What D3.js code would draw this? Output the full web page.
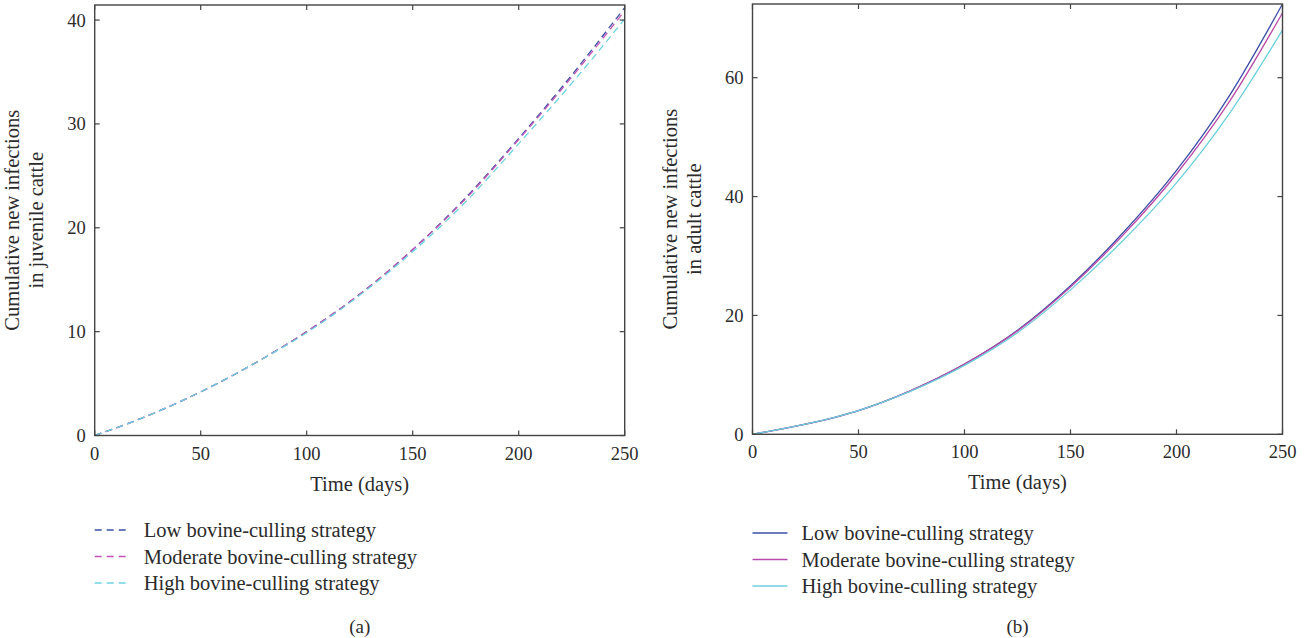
<!DOCTYPE html>
<html>
<head>
<meta charset="utf-8">
<script src="https://cdn.jsdelivr.net/npm/d3@7"></script>
<style>
  body { margin: 0; background: #fff; }
  text { font-family: "Liberation Serif", "DejaVu Serif", serif; fill: #2b2b2b; }
</style>
</head>
<body>
<div id="chart"></div>
<script>
// time points (days)
const days = [0, 25, 50, 75, 100, 125, 150, 175, 200, 225, 250];

// (a) juvenile cattle
const juvLow  = [0, 1.9, 4.2, 6.9, 10.0, 13.6, 17.9, 22.9, 28.6, 34.7, 41.2];
const juvMod  = [0, 1.9, 4.2, 6.9, 10.0, 13.6, 17.9, 22.8, 28.5, 34.5, 40.9];
const juvHigh = [0, 1.9, 4.2, 6.9, 9.9, 13.5, 17.7, 22.5, 28.1, 33.9, 40.1];

// (b) adult cattle
const adLow  = [0, 1.7, 4.0, 7.4, 11.8, 17.5, 25.0, 34.0, 44.4, 57.0, 72.4];
const adMod  = [0, 1.7, 4.0, 7.4, 11.8, 17.4, 24.8, 33.6, 43.8, 56.0, 70.9];
const adHigh = [0, 1.7, 4.0, 7.3, 11.6, 17.1, 24.3, 32.7, 42.3, 54.0, 68.0];

const strategies = ['Low bovine-culling strategy', 'Moderate bovine-culling strategy', 'High bovine-culling strategy'];
const xTicks = [0, 50, 100, 150, 200, 250];
const juvTicks = [0, 10, 20, 30, 40];
const adTicks = [0, 20, 40, 60];

const colorsA = ['#3d4fa8', '#c056b4', '#6fd2e0'];
const colorsB = ['#3d4ea6', '#b94aa9', '#6ccfdc'];

const svg = d3.select('#chart')
  .append('svg')
  .attr('width', 1306)
  .attr('height', 638);

function panel(opts) {
  const g = svg.append('g');
  const x = d3.scaleLinear().domain([0, 250]).range([opts.left, opts.right]);
  const y = d3.scaleLinear().domain([0, opts.ymax]).range([opts.bottom, opts.top]);

  const line = d3.line()
    .x((d, i) => x(days[i]))
    .y(d => y(d))
    .curve(d3.curveMonotoneX);

  // series
  opts.series.forEach((s, i) => {
    g.append('path')
      .attr('d', line(s))
      .attr('fill', 'none')
      .attr('stroke', opts.colors[i])
      .attr('stroke-width', 1.3)
      .attr('stroke-dasharray', opts.dashed ? '7,4.5' : null);
  });

  // frame
  g.append('rect')
    .attr('x', opts.left)
    .attr('y', opts.top)
    .attr('width', opts.right - opts.left)
    .attr('height', opts.bottom - opts.top)
    .attr('fill', 'none')
    .attr('stroke', '#444')
    .attr('stroke-width', 1.4);

  // inward ticks on all sides
  const tl = 5;
  xTicks.forEach(t => {
    g.append('line').attr('x1', x(t)).attr('x2', x(t)).attr('y1', opts.bottom).attr('y2', opts.bottom - tl).attr('stroke', '#444').attr('stroke-width', 1.2);
    g.append('line').attr('x1', x(t)).attr('x2', x(t)).attr('y1', opts.top).attr('y2', opts.top + tl).attr('stroke', '#444').attr('stroke-width', 1.2);
    g.append('text')
      .attr('x', x(t))
      .attr('y', opts.bottom + 24)
      .attr('text-anchor', 'middle')
      .style('font-size', '18.5px')
      .text(t);
  });
  opts.yTicks.forEach(t => {
    g.append('line').attr('x1', opts.left).attr('x2', opts.left + tl).attr('y1', y(t)).attr('y2', y(t)).attr('stroke', '#444').attr('stroke-width', 1.2);
    g.append('line').attr('x1', opts.right).attr('x2', opts.right - tl).attr('y1', y(t)).attr('y2', y(t)).attr('stroke', '#444').attr('stroke-width', 1.2);
    g.append('text')
      .attr('x', opts.left - 9)
      .attr('y', y(t) + 6.5)
      .attr('text-anchor', 'end')
      .style('font-size', '18.5px')
      .text(t);
  });

  // axis titles
  const midX = (opts.left + opts.right) / 2;
  g.append('text')
    .attr('x', midX)
    .attr('y', opts.bottom + 55)
    .attr('text-anchor', 'middle')
    .style('font-size', '20.5px')
    .text('Time (days)');

  const midY = (opts.top + opts.bottom) / 2;
  opts.yTitle.forEach((t, i) => {
    g.append('text')
      .attr('transform', `translate(${opts.left - 76 + i * 24}, ${midY}) rotate(-90)`)
      .attr('text-anchor', 'middle')
      .style('font-size', '20.5px')
      .text(t);
  });

  // legend
  strategies.forEach((s, i) => {
    const ly = opts.legendY + i * 26.5;
    g.append('line')
      .attr('x1', opts.left)
      .attr('x2', opts.left + 35)
      .attr('y1', ly)
      .attr('y2', ly)
      .attr('stroke', opts.colors[i])
      .attr('stroke-width', 1.3)
      .attr('stroke-dasharray', opts.dashed ? '7,5' : null);
    g.append('text')
      .attr('x', opts.left + 49)
      .attr('y', ly + 7)
      .style('font-size', '20.5px')
      .text(s);
  });

  // caption
  g.append('text')
    .attr('x', midX)
    .attr('y', 633)
    .attr('text-anchor', 'middle')
    .style('font-size', '19px')
    .text(opts.caption);
}

panel({
  left: 94.7, right: 624.7, top: 5, bottom: 435.5, ymax: 41.45,
  series: [juvLow, juvMod, juvHigh], colors: colorsA, dashed: true,
  yTicks: juvTicks, yTitle: ['Cumulative new infections', 'in juvenile cattle'],
  legendY: 530, caption: '(a)'
});

panel({
  left: 752.5, right: 1282.5, top: 4, bottom: 434.3, ymax: 72.4,
  series: [adLow, adMod, adHigh], colors: colorsB, dashed: false,
  yTicks: adTicks, yTitle: ['Cumulative new infections', 'in adult cattle'],
  legendY: 533, caption: '(b)'
});
</script>
</body>
</html>
